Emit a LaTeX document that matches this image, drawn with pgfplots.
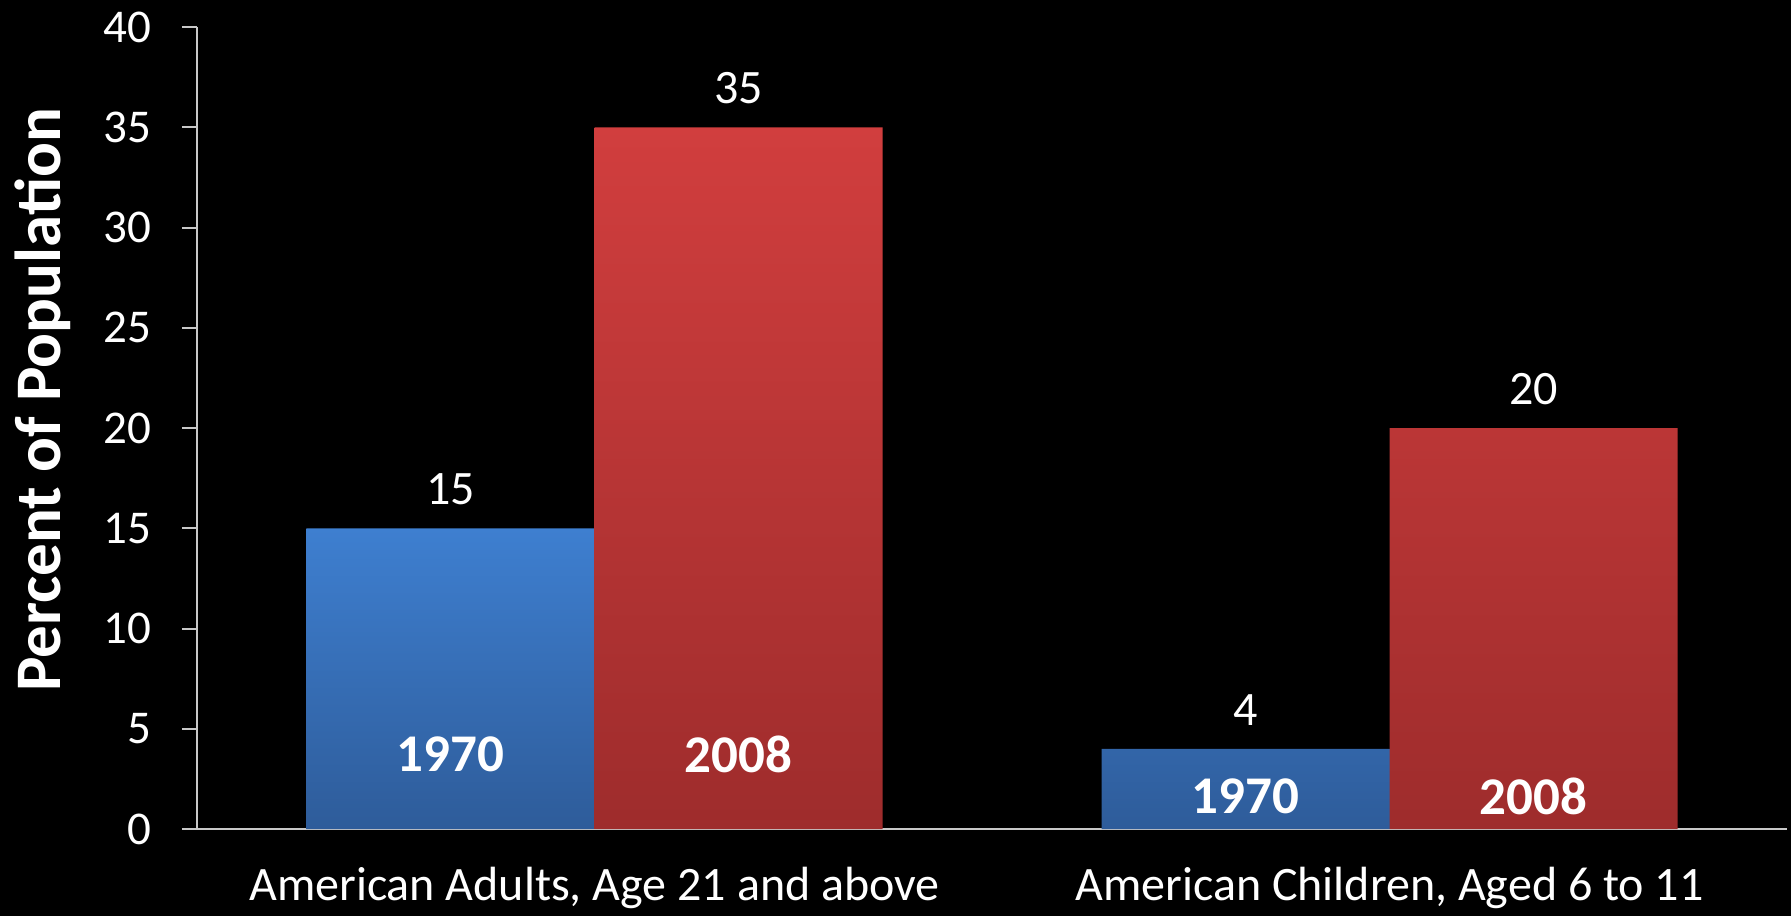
\documentclass[border=0pt]{standalone}
\usepackage{pgfplots}
\pgfplotsset{compat=1.18}
\usepackage{fontspec}
\setmainfont{Carlito}
\definecolor{blueT}{RGB}{62,127,208}
\definecolor{blueB}{RGB}{46,92,154}
\definecolor{redT}{RGB}{209,62,62}
\definecolor{redB}{RGB}{158,44,44}
\definecolor{axgray}{RGB}{200,200,200}
\begin{document}
\begin{tikzpicture}
\fill[black] (-98.5pt,-43.5pt) rectangle (797pt,414.5pt);
\begin{axis}[
  at={(0,0)}, anchor=south west,
  scale only axis, width=795pt, height=401pt,
  xmin=-0.5, xmax=1.5, ymin=0, ymax=40,
  ybar=0pt, bar width=144pt,
  axis x line*=bottom, axis y line*=left,
  axis line style={axgray, line width=1pt},
  xtick={0,1},
  xticklabels={{American Adults, Age 21 and above}, {American Children, Aged 6 to 11}},
  xtick style={draw=none},
  ytick={0,5,...,40},
  ytick style={axgray, line width=1pt},
  tick align=outside, major tick length=7.5pt,
  /pgf/number format/assume math mode=true,
  yticklabel style={font=\fontsize{23.5}{28}\selectfont, text=white, xshift=-12pt},
  xticklabel style={font=\fontsize{24}{29}\selectfont, text=white, yshift=-8pt},
  ylabel={Percent of Population},
  ylabel style={at={([xshift=-77pt,yshift=14pt]axis description cs:0,0.5)}, anchor=center, font=\fontsize{32.5}{38}\selectfont\bfseries, text=white},
  nodes near coords,
  every node near coord/.append style={font=\fontsize{24}{29}\selectfont, text=white, anchor=center, yshift=19.5pt},
  clip=false,
]
\addplot[draw=none, top color=blueT, bottom color=blueB] coordinates {(0,15) (1,4)};
\addplot[draw=none, top color=redT, bottom color=redB] coordinates {(0,35) (1,20)};
\node[text=white, font=\fontsize{26.5}{31}\selectfont\bfseries] at (axis cs:-0.1811,3.74) {1970};
\node[text=white, font=\fontsize{26.5}{31}\selectfont\bfseries] at (axis cs:0.1811,3.74) {2008};
\node[text=white, font=\fontsize{26.5}{31}\selectfont\bfseries] at (axis cs:0.8189,1.65) {1970};
\node[text=white, font=\fontsize{26.5}{31}\selectfont\bfseries] at (axis cs:1.1811,1.65) {2008};
\end{axis}
\pgfresetboundingbox
\useasboundingbox (-98.5pt,-43.5pt) rectangle (797pt,414.5pt);
\end{tikzpicture}
\end{document}
